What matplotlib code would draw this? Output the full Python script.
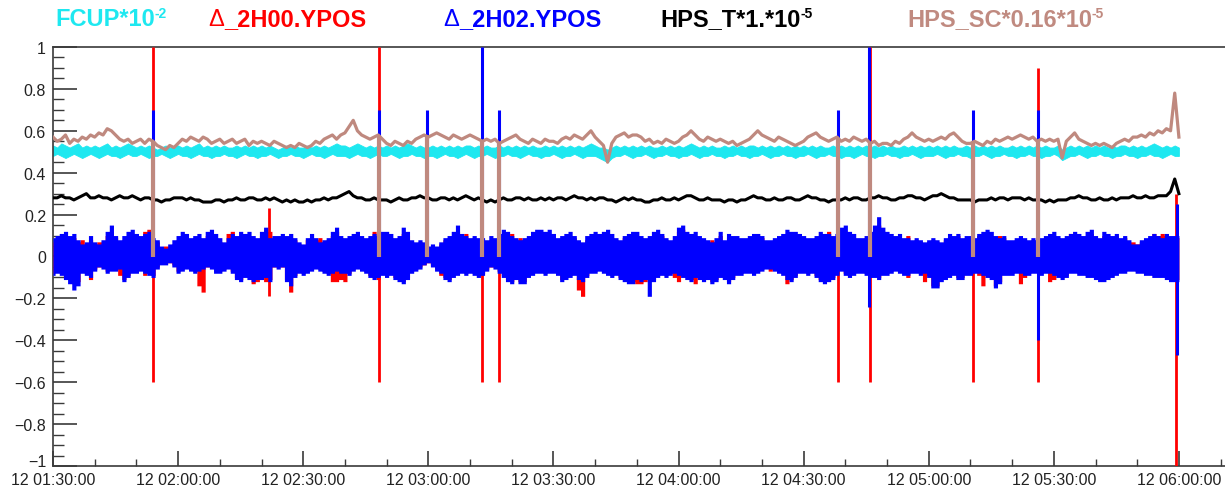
import datetime as dt
import numpy as np
import matplotlib
matplotlib.use('Agg')
import matplotlib.pyplot as plt
from matplotlib.ticker import MultipleLocator, FuncFormatter
from matplotlib.transforms import ScaledTranslation

plt.rcParams['font.family'] = ['Liberation Sans', 'DejaVu Sans']

# time axis: minutes after 12 01:30:00, one sample per minute
START = dt.datetime(2024, 1, 12, 1, 30, 0)

# beam position noise bands, in units of 0.01
blue_hi = [
    9, 10, 11, 12, 10, 11, 8, 6, 7, 10,
    7, 6, 8, 12, 15, 10, 8, 10, 12, 13,
    11, 10, 11, 12, 9, 8, 5, 4, 6, 8,
    10, 12, 11, 9, 10, 11, 9, 12, 13, 11,
    9, 7, 9, 11, 10, 12, 11, 12, 10, 9,
    12, 14, 9, 10, 10, 11, 10, 11, 9, 7,
    6, 9, 11, 9, 7, 8, 9, 12, 14, 10,
    9, 10, 11, 12, 10, 9, 10, 11, 10, 12,
    12, 11, 9, 10, 14, 12, 8, 7, 8, 7,
    5, 6, 5, 7, 9, 10, 12, 15, 11, 10,
    9, 10, 9, 9, 8, 10, 9, 11, 13, 12,
    10, 9, 8, 9, 10, 12, 13, 13, 12, 13,
    11, 9, 10, 11, 12, 10, 8, 7, 10, 11,
    12, 11, 12, 13, 11, 9, 8, 10, 11, 12,
    12, 10, 9, 10, 12, 13, 11, 9, 8, 10,
    14, 15, 12, 11, 12, 10, 9, 8, 7, 9,
    12, 8, 11, 10, 10, 9, 9, 10, 11, 11,
    10, 8, 8, 9, 10, 11, 13, 12, 12, 11,
    10, 9, 9, 10, 12, 11, 11, 10, 11, 14,
    15, 12, 11, 9, 9, 10, 12, 15, 19, 14,
    12, 11, 10, 11, 9, 9, 8, 9, 8, 7,
    8, 9, 8, 7, 9, 11, 10, 11, 9, 10,
    10, 9, 11, 12, 13, 12, 10, 9, 10, 8,
    8, 9, 10, 9, 8, 9, 8, 9, 10, 11,
    12, 10, 9, 10, 11, 12, 11, 10, 12, 13,
    10, 9, 12, 11, 10, 11, 9, 10, 8, 6,
    6, 8, 9, 10, 11, 10, 9, 11, 10, 10, 10,
]
blue_lo = [
    -9, -8, -9, -11, -13, -16, -14, -8, -9, -10,
    -7, -5, -6, -8, -7, -7, -6, -12, -10, -8,
    -8, -7, -8, -9, -10, -6, -4, -4, -3, -5,
    -8, -7, -6, -7, -8, -7, -6, -5, -6, -8,
    -8, -7, -6, -8, -11, -12, -10, -11, -12, -11,
    -11, -10, -12, -5, -6, -5, -12, -14, -10, -8,
    -9, -8, -7, -6, -7, -8, -9, -8, -7, -8,
    -8, -9, -7, -6, -7, -8, -10, -11, -10, -9,
    -10, -9, -11, -12, -13, -11, -8, -7, -6, -4,
    -3, -5, -7, -8, -11, -12, -10, -9, -8, -9,
    -8, -9, -10, -9, -7, -5, -6, -8, -10, -12,
    -13, -11, -13, -13, -10, -9, -8, -8, -9, -8,
    -8, -9, -12, -11, -10, -9, -11, -12, -10, -8,
    -8, -7, -8, -9, -10, -9, -11, -12, -13, -13,
    -11, -12, -11, -19, -12, -10, -9, -10, -9, -8,
    -9, -10, -11, -12, -10, -11, -12, -11, -13, -12,
    -10, -11, -13, -11, -9, -9, -8, -8, -9, -8,
    -7, -6, -6, -7, -8, -9, -11, -12, -10, -8,
    -8, -9, -8, -10, -12, -13, -12, -11, -9, -7,
    -9, -10, -9, -8, -8, -9, -10, -10, -11, -9,
    -9, -8, -7, -8, -9, -9, -8, -8, -9, -8,
    -10, -15, -15, -12, -11, -10, -9, -11, -11, -9,
    -9, -8, -8, -9, -10, -11, -15, -13, -9, -9,
    -9, -8, -8, -9, -9, -8, -8, -9, -8, -8,
    -9, -10, -11, -10, -8, -8, -9, -9, -10, -10,
    -11, -12, -12, -11, -10, -9, -8, -8, -7, -7,
    -8, -8, -9, -9, -10, -10, -10, -11, -12, -12, -12,
]
red_hi = [
    7, 8, 9, 10, 8, 9, 7, 8, 6, 8,
    6, 7, 7, 10, 12, 9, 7, 8, 10, 11,
    9, 9, 12, 13, 8, 7, 4, 5, 5, 6,
    8, 10, 9, 8, 9, 9, 8, 10, 11, 9,
    7, 6, 11, 12, 9, 10, 9, 10, 8, 8,
    10, 13, 12, 8, 9, 9, 8, 9, 8, 6,
    5, 8, 9, 8, 9, 7, 8, 10, 12, 9,
    8, 8, 9, 10, 9, 8, 9, 12, 9, 10,
    10, 9, 8, 9, 11, 10, 7, 6, 7, 6,
    4, 5, 4, 6, 8, 9, 10, 12, 9, 11,
    8, 9, 8, 8, 7, 8, 8, 10, 11, 10,
    11, 8, 9, 8, 9, 10, 11, 11, 10, 11,
    9, 8, 7, 9, 10, 9, 7, 6, 8, 9,
    10, 9, 10, 11, 9, 8, 7, 9, 10, 10,
    10, 9, 8, 9, 10, 11, 10, 8, 7, 8,
    12, 13, 10, 10, 10, 9, 8, 7, 8, 7,
    10, 7, 9, 9, 8, 8, 8, 9, 9, 10,
    9, 7, 7, 8, 9, 10, 11, 10, 10, 9,
    9, 8, 8, 9, 10, 10, 12, 9, 9, 12,
    12, 10, 9, 8, 8, 9, 10, 12, 15, 12,
    10, 9, 9, 9, 8, 10, 7, 8, 7, 6,
    7, 8, 7, 6, 8, 9, 9, 10, 8, 9,
    9, 8, 10, 10, 11, 10, 9, 10, 9, 7,
    7, 8, 9, 8, 7, 8, 7, 8, 9, 10,
    10, 9, 8, 9, 11, 10, 10, 9, 10, 11,
    9, 8, 10, 10, 9, 10, 8, 9, 7, 7,
    6, 7, 8, 9, 11, 10, 11, 10, 9, 9, 9,
]
red_lo = [
    -8, -7, -8, -10, -11, -13, -12, -7, -8, -11,
    -6, -5, -5, -7, -6, -6, -9, -11, -9, -7,
    -7, -6, -9, -8, -9, -5, -3, -3, -3, -4,
    -7, -6, -5, -6, -7, -14, -17, -5, -5, -7,
    -7, -6, -5, -7, -10, -11, -9, -10, -13, -12,
    -10, -12, -11, -5, -5, -5, -11, -17, -9, -7,
    -8, -7, -6, -5, -6, -7, -8, -12, -12, -11,
    -12, -8, -6, -5, -6, -7, -9, -10, -11, -8,
    -9, -8, -10, -11, -12, -10, -7, -6, -5, -4,
    -3, -4, -6, -9, -10, -11, -9, -8, -7, -8,
    -7, -8, -9, -8, -6, -5, -5, -7, -9, -11,
    -12, -10, -12, -12, -9, -8, -7, -7, -8, -7,
    -7, -8, -11, -10, -9, -8, -16, -19, -9, -7,
    -7, -6, -7, -8, -9, -8, -10, -11, -12, -12,
    -13, -13, -12, -11, -11, -9, -8, -9, -8, -10,
    -12, -9, -10, -11, -13, -10, -11, -10, -12, -11,
    -9, -10, -12, -10, -8, -8, -7, -7, -8, -7,
    -6, -5, -7, -6, -7, -8, -13, -11, -9, -7,
    -7, -8, -7, -9, -11, -12, -11, -10, -8, -6,
    -8, -9, -8, -7, -7, -8, -9, -9, -10, -8,
    -8, -7, -6, -7, -8, -10, -7, -7, -8, -12,
    -9, -14, -14, -11, -10, -9, -8, -10, -10, -8,
    -8, -7, -9, -14, -9, -10, -14, -12, -8, -8,
    -8, -7, -13, -10, -8, -7, -7, -8, -7, -12,
    -11, -9, -10, -9, -7, -7, -8, -8, -9, -9,
    -10, -11, -11, -10, -9, -8, -7, -7, -6, -6,
    -7, -7, -8, -8, -9, -9, -9, -10, -11, -11, -11,
]

# Faraday cup current band (scaled), units of 0.01
fcup_hi = [
    53, 52, 54, 53, 52, 53, 54, 52, 53, 52,
    53, 52, 53, 54, 52, 53, 52, 53, 54, 53,
    52, 53, 52, 53, 52, 51, 52, 53, 52, 53,
    53, 52, 53, 52, 53, 54, 52, 53, 52, 53,
    52, 53, 52, 52, 53, 52, 53, 52, 53, 52,
    53, 52, 53, 52, 51, 52, 53, 52, 53, 52,
    52, 53, 52, 53, 52, 53, 52, 53, 54, 53,
    53, 52, 53, 54, 53, 52, 53, 52, 53, 52,
    53, 52, 53, 52, 53, 54, 53, 52, 53, 52,
    52, 53, 52, 53, 52, 53, 52, 53, 52, 53,
    53, 52, 53, 52, 53, 52, 52, 53, 52, 53,
    52, 53, 52, 53, 52, 53, 52, 52, 53, 52,
    53, 52, 53, 52, 53, 52, 53, 52, 53, 54,
    53, 52, 52, 51, 52, 53, 52, 53, 52, 53,
    52, 53, 52, 53, 52, 52, 53, 52, 53, 52,
    53, 52, 53, 54, 53, 52, 53, 52, 53, 52,
    52, 53, 52, 53, 52, 53, 52, 53, 53, 52,
    53, 52, 53, 52, 53, 52, 53, 52, 53, 52,
    53, 52, 53, 52, 53, 52, 52, 53, 52, 53,
    52, 53, 52, 53, 52, 53, 52, 53, 52, 53,
    52, 53, 52, 52, 53, 52, 53, 52, 53, 52,
    53, 52, 53, 52, 53, 52, 53, 52, 52, 53,
    52, 53, 52, 53, 52, 53, 52, 53, 52, 52,
    53, 52, 53, 52, 53, 52, 53, 52, 53, 52,
    52, 53, 51, 52, 53, 52, 53, 52, 53, 52,
    53, 52, 53, 52, 53, 52, 53, 53, 52, 53,
    52, 53, 52, 53, 54, 53, 52, 53, 52, 53, 52,
]
fcup_lo = [
    48, 49, 48, 47, 48, 49, 48, 47, 48, 49,
    48, 47, 48, 49, 48, 48, 47, 48, 49, 48,
    48, 49, 48, 47, 48, 48, 49, 48, 47, 48,
    49, 48, 48, 47, 48, 49, 48, 48, 47, 48,
    48, 49, 48, 48, 47, 48, 49, 48, 48, 47,
    48, 48, 49, 48, 47, 48, 48, 49, 48, 48,
    47, 48, 49, 48, 48, 47, 48, 49, 48, 48,
    48, 47, 48, 49, 48, 48, 47, 48, 49, 48,
    48, 49, 48, 47, 48, 48, 49, 48, 48, 47,
    48, 48, 47, 48, 49, 48, 48, 47, 48, 49,
    48, 47, 48, 48, 49, 48, 47, 48, 48, 49,
    48, 48, 47, 48, 49, 48, 48, 47, 48, 48,
    49, 48, 47, 48, 48, 49, 48, 47, 48, 48,
    48, 47, 46, 45, 47, 48, 48, 49, 48, 47,
    48, 48, 49, 48, 47, 48, 48, 49, 48, 48,
    47, 48, 48, 49, 48, 47, 48, 48, 49, 48,
    48, 47, 48, 48, 49, 48, 48, 47, 48, 48,
    49, 48, 47, 48, 48, 49, 48, 48, 47, 48,
    48, 49, 48, 47, 48, 48, 49, 48, 48, 47,
    48, 48, 47, 48, 49, 48, 48, 47, 48, 48,
    49, 48, 48, 47, 48, 48, 49, 48, 47, 48,
    48, 48, 49, 48, 47, 48, 48, 49, 48, 48,
    47, 48, 48, 49, 48, 47, 48, 48, 49, 48,
    48, 47, 48, 48, 49, 48, 48, 47, 48, 48,
    49, 48, 46, 47, 48, 48, 49, 48, 47, 48,
    48, 49, 48, 48, 47, 48, 48, 49, 48, 48,
    47, 48, 48, 49, 48, 48, 47, 48, 49, 48, 48,
]

# HPS target and shield currents (scaled), units of 0.01
hps_t = [
    28, 28, 29, 28, 28, 27, 28, 29, 30, 28,
    28, 29, 28, 28, 27, 28, 29, 28, 28, 29,
    28, 27, 28, 28, 27, 27, 26, 27, 27, 28,
    28, 28, 27, 28, 27, 27, 26, 26, 26, 27,
    27, 26, 27, 27, 28, 27, 27, 28, 28, 27,
    27, 28, 27, 28, 27, 26, 27, 26, 27, 26,
    26, 27, 26, 27, 27, 28, 27, 28, 28, 29,
    30, 31, 29, 28, 28, 27, 27, 28, 27, 27,
    27, 26, 27, 28, 27, 27, 28, 28, 29, 28,
    28, 27, 27, 28, 28, 27, 28, 27, 28, 29,
    28, 27, 28, 27, 26, 27, 26, 27, 28, 27,
    27, 28, 28, 27, 28, 27, 27, 28, 27, 28,
    27, 28, 28, 27, 28, 29, 28, 28, 27, 28,
    27, 28, 28, 27, 27, 26, 27, 28, 27, 28,
    27, 27, 26, 26, 27, 27, 28, 27, 27, 28,
    27, 28, 29, 29, 28, 27, 27, 28, 27, 27,
    27, 26, 27, 27, 26, 27, 27, 28, 29, 28,
    28, 27, 27, 28, 27, 27, 28, 28, 27, 27,
    28, 29, 28, 28, 27, 27, 26, 27, 27, 27,
    28, 27, 28, 28, 27, 27, 28, 28, 29, 28,
    28, 27, 27, 28, 28, 29, 29, 28, 28, 27,
    28, 29, 29, 30, 29, 28, 28, 27, 27, 27,
    27, 26, 27, 27, 27, 28, 27, 28, 28, 27,
    28, 28, 28, 27, 28, 27, 27, 27, 26, 27,
    26, 27, 27, 27, 28, 28, 29, 28, 28, 27,
    27, 28, 27, 27, 28, 27, 28, 28, 28, 29,
    28, 28, 29, 28, 28, 29, 29, 29, 31, 37, 30,
]
hps_sc = [
    57, 55, 56, 58, 54, 56, 55, 57, 56, 58,
    57, 59, 58, 61, 60, 58, 56, 55, 56, 54,
    55, 56, 54, 56, 55, 53, 52, 51, 53, 52,
    54, 56, 55, 57, 56, 55, 57, 56, 54, 55,
    56, 54, 55, 56, 54, 55, 56, 53, 55, 54,
    55, 54, 53, 55, 54, 53, 52, 53, 52, 54,
    53, 52, 53, 55, 54, 56, 57, 58, 56, 58,
    59, 62, 65, 60, 58, 57, 56, 57, 58, 56,
    54, 53, 55, 54, 53, 55, 54, 56, 57, 58,
    57, 58, 59, 58, 57, 56, 58, 57, 56, 57,
    58, 57, 56, 55, 56, 55, 56, 54, 55, 56,
    57, 58, 56, 55, 54, 56, 55, 54, 56, 55,
    55, 54, 56, 57, 56, 58, 57, 56, 58, 60,
    57, 55, 53, 45, 54, 57, 58, 59, 57, 58,
    58, 57, 55, 56, 54, 55, 54, 56, 55, 54,
    55, 57, 58, 60, 58, 56, 55, 57, 56, 55,
    56, 55, 54, 55, 53, 54, 55, 56, 58, 60,
    58, 57, 56, 55, 57, 56, 55, 54, 53, 54,
    55, 57, 58, 59, 57, 56, 55, 56, 57, 55,
    56, 55, 57, 56, 55, 56, 54, 55, 53, 54,
    54, 53, 55, 54, 56, 57, 59, 57, 56, 55,
    56, 55, 56, 57, 56, 58, 59, 57, 55, 54,
    54, 55, 54, 53, 55, 54, 56, 55, 56, 57,
    56, 57, 58, 57, 56, 57, 55, 56, 55, 56,
    55, 56, 47, 55, 57, 59, 56, 55, 54, 53,
    54, 53, 54, 53, 52, 54, 55, 56, 55, 57,
    57, 58, 57, 59, 58, 60, 59, 61, 60, 78, 57,
]

# beam trips (minutes after start): shield current drops to zero
trip_min = [24.0, 78.2, 89.7, 102.9, 107.0, 188.2, 196.0, 220.6, 236.2]

# position excursions at the trips and at the end of the run
red_spike_min = [24.0, 51.7, 78.2, 102.9, 107.0, 188.2, 196.0, 220.6, 236.2, 269.3]
red_spike_hi = [1.0, 0.23, 1.0, 0.0, 0.0, 0.0, 1.0, 0.0, 0.9, 0.3]
red_spike_lo = [-0.6, -0.19, -0.6, -0.6, -0.6, -0.6, -0.6, -0.6, -0.6, -1.05]
blue_spike_min = [24.0, 78.2, 89.7, 102.9, 107.0, 188.2, 195.8, 220.6, 236.2, 269.6]
blue_spike_hi = [0.7, 0.7, 0.7, 1.0, 0.7, 0.7, 1.0, 0.7, 0.7, 0.25]
blue_spike_lo = [0.0, 0.0, 0.0, 0.0, 0.0, 0.0, -0.24, 0.0, -0.4, -0.47]

legend_items = [
    ('FCUP*10', '-2', '#1ee8f0'),
    ('\u0394', '_2H00.YPOS', '#ff0000'),
    ('\u0394', '_2H02.YPOS', '#0000ff'),
    ('HPS_T*1.*10', '-5', '#000000'),
    ('HPS_SC*0.16*10', '-5', '#c08a80'),
]
legend_x = [55, 208, 443, 660, 907]

C_CYAN = '#1ee8f0'
C_RED = '#ff0000'
C_BLUE = '#0000ff'
C_BROWN = '#bf897f'

W, H = 1225, 489
fig = plt.figure(figsize=(W / 100, H / 100), dpi=100)
ax = fig.add_axes([53 / W, 22 / H, (W - 53) / W, 419 / H])

t = np.arange(len(blue_hi))
s = lambda v: np.asarray(v) / 100.0

ax.fill_between(t, s(fcup_lo), s(fcup_hi), color=C_CYAN, lw=0.6, zorder=2)
ax.fill_between(t, s(red_lo), s(red_hi), step='mid', color=C_RED, lw=0, zorder=3)
ax.vlines(red_spike_min, red_spike_lo, red_spike_hi, color=C_RED, lw=2.0, zorder=3)
ax.fill_between(t, s(blue_lo), s(blue_hi), step='mid', color=C_BLUE, lw=0, zorder=4)
ax.vlines(blue_spike_min, blue_spike_lo, blue_spike_hi, color=C_BLUE, lw=2.2, zorder=4)
ax.plot(t, s(hps_t), color='black', lw=2.2, zorder=5)
ax.plot(t, s(hps_sc), color=C_BROWN, lw=2.3, zorder=6)
sc_top = np.interp(trip_min, t, s(hps_sc))
ax.vlines(trip_min, 0.0, sc_top, color=C_BROWN, lw=3.0, zorder=6)

ax.set_xlim(0, (W - 53) / 4.17)
ax.set_ylim(-1, 1)

ax.xaxis.set_major_locator(MultipleLocator(30))
ax.xaxis.set_minor_locator(MultipleLocator(10))
ax.yaxis.set_major_locator(MultipleLocator(0.2))
ax.yaxis.set_minor_locator(MultipleLocator(0.05))


def time_label(m, pos):
    d = START + dt.timedelta(minutes=m)
    return f'{d.day:02d} {d:%H:%M:%S}'


def y_label(v, pos):
    v = round(v, 2)
    return f'{v:g}'.replace('-', '\u2212')


ax.xaxis.set_major_formatter(FuncFormatter(time_label))
ax.yaxis.set_major_formatter(FuncFormatter(y_label))

axis_col = '#3a3a3a'
for side in ('left', 'bottom', 'top'):
    ax.spines[side].set_color(axis_col)
    ax.spines[side].set_linewidth(1.2)
ax.spines['right'].set_visible(False)

ax.tick_params(axis='y', which='major', direction='in', length=17, width=1.2,
               color=axis_col, labelsize=11.5, labelcolor='#222222', pad=5)
ax.tick_params(axis='y', which='minor', direction='in', length=8, width=1.0,
               color=axis_col)
ax.tick_params(axis='x', which='major', direction='in', length=10.5, width=1.2,
               color=axis_col, labelsize=11.5, labelcolor='#222222', pad=4)
ax.tick_params(axis='x', which='minor', direction='in', length=5, width=1.0,
               color=axis_col)

# lift the bottom y label a little so it clears the first time label
fig.canvas.draw()
for lab in ax.get_yticklabels():
    if lab.get_text() == '\u22121':
        lab.set_transform(lab.get_transform()
                          + ScaledTranslation(0, 4 / 72, fig.dpi_scale_trans))

# legend written as a row of coloured titles above the frame
renderer = fig.canvas.get_renderer()
base_y = 1 - 26 / H
for (x0, (head, tail, col)) in zip(legend_x, legend_items):
    x = x0 / W
    if head == '\u0394':
        parts = [(head, 'normal', 17, 0), (tail, 'bold', 17, 0)]
    else:
        parts = [(head, 'bold', 17, 0), (tail, 'bold', 10, 8)]
    for text, weight, size, rise in parts:
        txt = fig.text(x, base_y + rise / H, text, color=col, fontsize=size,
                       fontweight=weight, ha='left', va='baseline')
        x += txt.get_window_extent(renderer).width / W

fig.savefig('out.png', dpi=100)
